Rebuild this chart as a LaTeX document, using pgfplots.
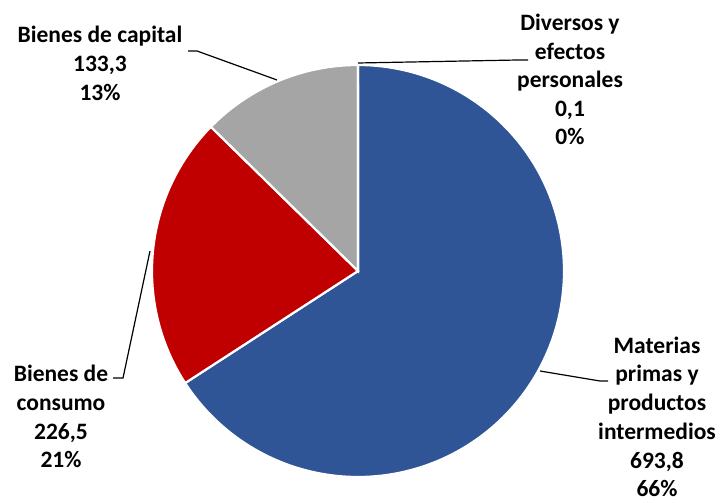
\documentclass[border=0pt]{standalone}
\usepackage{pgfplots}
\usepackage{pgfplotstable}
\pgfplotsset{compat=1.18}
\usepackage{fontspec}
\setmainfont{Carlito}
\definecolor{cblue}{RGB}{47,85,151}
\definecolor{cred}{RGB}{192,0,0}
\definecolor{cgray}{RGB}{165,165,165}
\definecolor{cdark}{RGB}{89,89,89}
\pgfplotstableread{
label value
Materias 693.8
Consumo 226.5
Capital 133.3
Diversos 0.1
}\datatable
\pgfplotstablegetelem{0}{value}\of\datatable \let\va\pgfplotsretval
\pgfplotstablegetelem{1}{value}\of\datatable \let\vb\pgfplotsretval
\pgfplotstablegetelem{2}{value}\of\datatable \let\vc\pgfplotsretval
\pgfplotstablegetelem{3}{value}\of\datatable \let\vd\pgfplotsretval
\pgfmathsetmacro\total{\va+\vb+\vc+\vd}
\pgfmathsetmacro\fa{\va/\total}
\pgfmathsetmacro\fb{\vb/\total}
\pgfmathsetmacro\fc{\vc/\total}
\pgfmathsetmacro\fd{\vd/\total}
\pgfmathsetmacro\aA{90-360*\fa}
\pgfmathsetmacro\aB{\aA-360*\fb}
\pgfmathsetmacro\aC{\aB-360*\fc}
\pgfmathsetmacro\aD{\aC-360*\fd}
\newcommand{\lf}{\fontsize{23.5}{29}\selectfont\bfseries}
\begin{document}
\begin{tikzpicture}
\begin{axis}[
  scale only axis, width=720pt, height=503pt,
  xmin=0, xmax=720, ymin=0, ymax=503,
  hide axis, clip=false,
]
\addplot[fill=cblue, draw=white, line width=2.2pt, domain=\aA:90, samples=150, variable=\t]
  ({358+206*cos(\t)},{232+206*sin(\t)}) -- (axis cs:358,232) -- cycle;
\addplot[fill=cred, draw=white, line width=2.2pt, domain=\aB:\aA, samples=80, variable=\t]
  ({358+206*cos(\t)},{232+206*sin(\t)}) -- (axis cs:358,232) -- cycle;
\addplot[fill=cgray, draw=white, line width=2.2pt, domain=\aC:\aB, samples=60, variable=\t]
  ({358+206*cos(\t)},{232+206*sin(\t)}) -- (axis cs:358,232) -- cycle;
\addplot[fill=cdark, draw=white, line width=2.2pt, domain=\aD:\aC, samples=2, variable=\t]
  ({358+206*cos(\t)},{232+206*sin(\t)}) -- (axis cs:358,232) -- cycle;
% leader lines
\draw[black, line width=1.2pt] (axis cs:188,452) -- (axis cs:197,452) -- (axis cs:277,423);
\draw[black, line width=1.2pt] (axis cs:358,440) -- (axis cs:518,443) -- (axis cs:528,443);
\draw[black, line width=1.2pt] (axis cs:113,125) -- (axis cs:123,125) -- (axis cs:150,252);
\draw[black, line width=1.2pt] (axis cs:540,132) -- (axis cs:600,122) -- (axis cs:608,122);
% labels
\node[anchor=base, font=\lf] at (axis cs:100,460) {Bienes de capital};
\node[anchor=base, font=\lf] at (axis cs:100,431) {133,3};
\node[anchor=base, font=\lf] at (axis cs:100,402) {13\%};
\node[anchor=base, font=\lf] at (axis cs:570,472) {Diversos y};
\node[anchor=base, font=\lf] at (axis cs:570,443.5) {efectos};
\node[anchor=base, font=\lf] at (axis cs:570,415) {personales};
\node[anchor=base, font=\lf] at (axis cs:570,386) {0,1};
\node[anchor=base, font=\lf] at (axis cs:570,358) {0\%};
\node[anchor=base, font=\lf] at (axis cs:61,121) {Bienes de};
\node[anchor=base, font=\lf] at (axis cs:61,92) {consumo};
\node[anchor=base, font=\lf] at (axis cs:61,63.5) {226,5};
\node[anchor=base, font=\lf] at (axis cs:61,35) {21\%};
\node[anchor=base, font=\lf] at (axis cs:657,149.5) {Materias};
\node[anchor=base, font=\lf] at (axis cs:657,121.5) {primas y};
\node[anchor=base, font=\lf] at (axis cs:657,92.5) {productos};
\node[anchor=base, font=\lf] at (axis cs:657,63.5) {intermedios};
\node[anchor=base, font=\lf] at (axis cs:657,34.5) {693,8};
\node[anchor=base, font=\lf] at (axis cs:657,6) {66\%};
\end{axis}
\pgfresetboundingbox
\path[use as bounding box] (current axis.south west) rectangle (current axis.north east);
\end{tikzpicture}
\end{document}
